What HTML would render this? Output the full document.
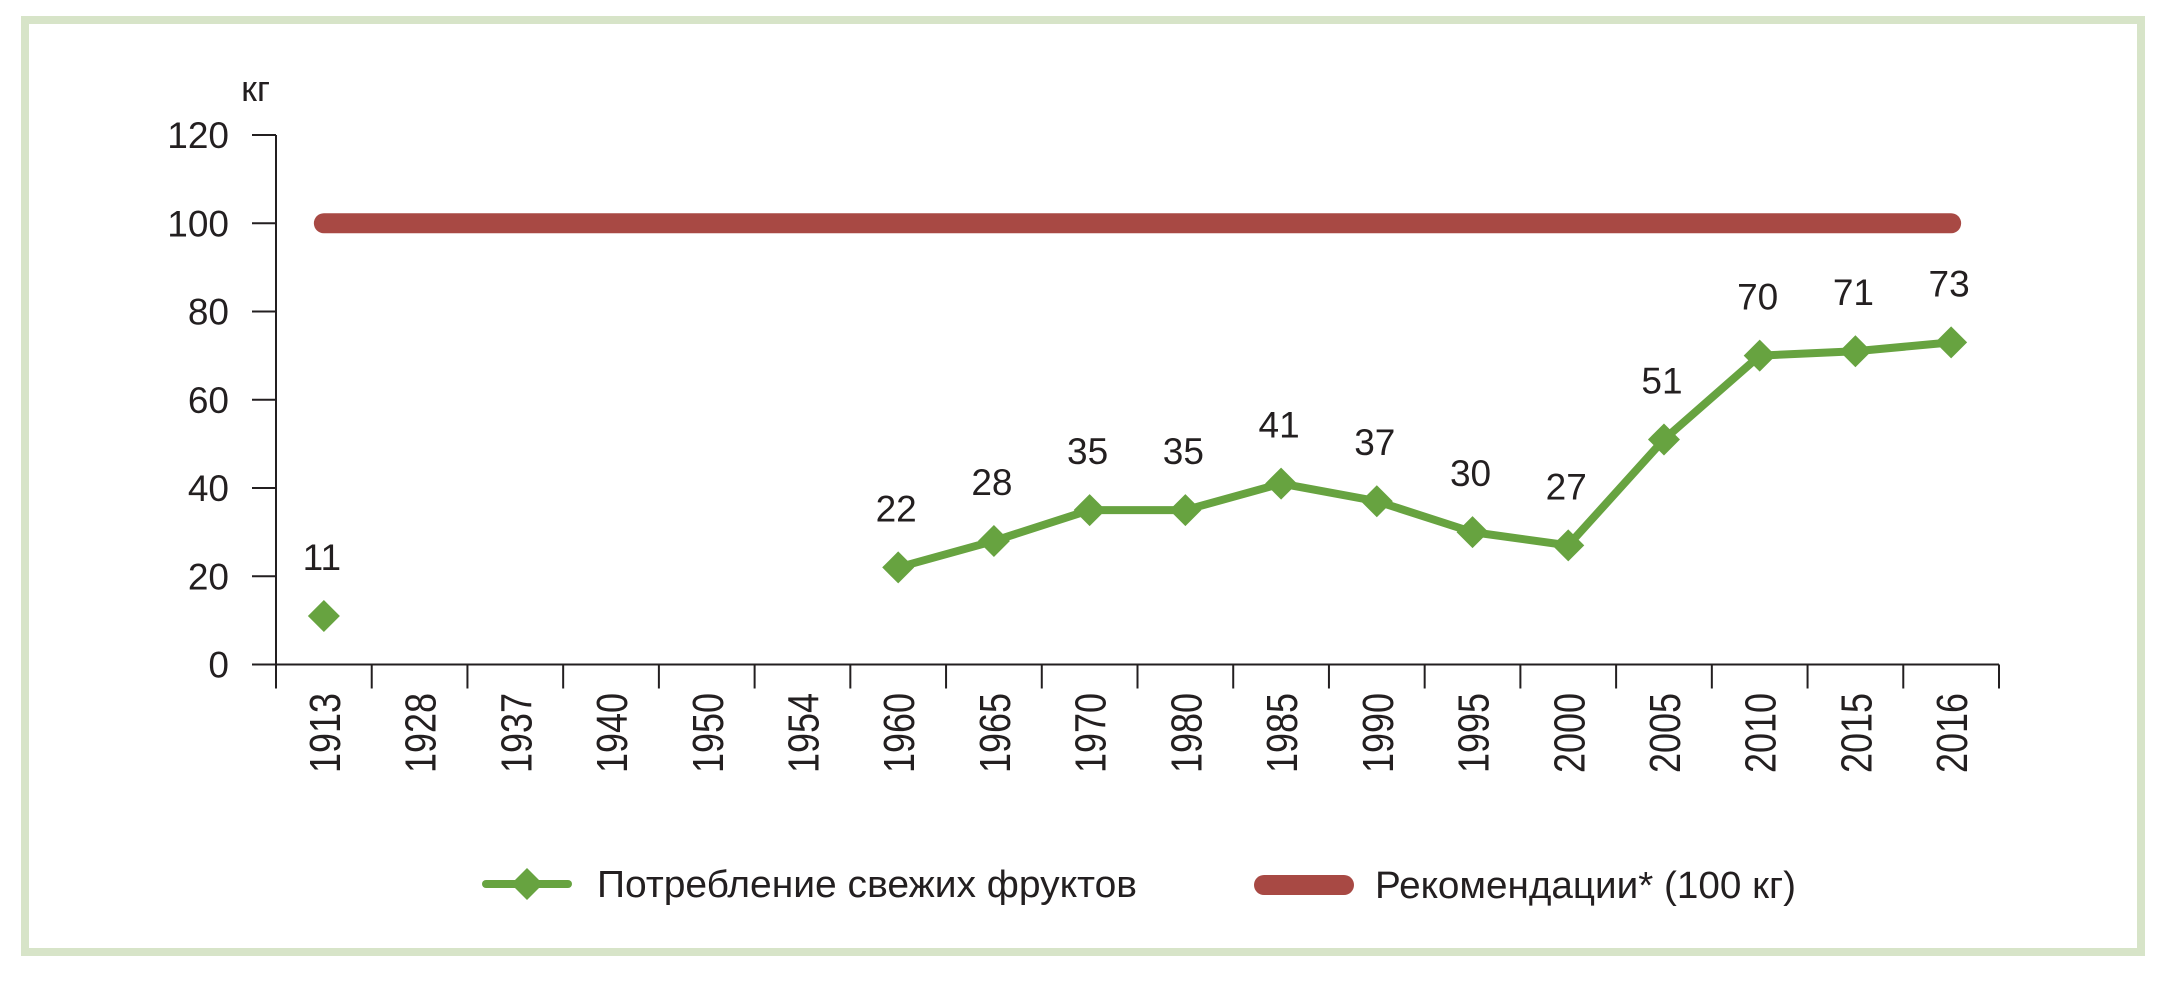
<!DOCTYPE html>
<html><head><meta charset="utf-8">
<style>
html,body{margin:0;padding:0;background:#fff;}
svg{display:block;font-family:"Liberation Sans",sans-serif;}
</style></head>
<body>
<svg id="chart" width="2161" height="981" viewBox="0 0 2161 981" xmlns="http://www.w3.org/2000/svg">
<rect x="25" y="20" width="2116" height="932" fill="#fff" stroke="#d7e4c8" stroke-width="8"/>
<text x="270" y="101" font-size="36" fill="#231f20" text-anchor="end">кг</text>
<g id="axes"></g>
<g id="series"></g>
<g>
<g>
<line x1="486" y1="884" x2="568" y2="884" stroke="#67a340" stroke-width="8" stroke-linecap="round"/>
<path d="M527 868 L543 884 L527 900 L511 884 Z" fill="#67a340"/>
<text x="597" y="897" font-size="38" fill="#231f20" textLength="540" lengthAdjust="spacingAndGlyphs">Потребление свежих фруктов</text>
</g>
<g>
<line x1="1264" y1="885" x2="1344" y2="885" stroke="#a84944" stroke-width="20" stroke-linecap="round"/>
<text x="1375" y="898" font-size="38" fill="#231f20" textLength="421" lengthAdjust="spacingAndGlyphs">Рекомендации* (100 кг)</text>
</g>
</g>
</svg>
<script>
const categories = ["1913","1928","1937","1940","1950","1954","1960","1965","1970","1980","1985","1990","1995","2000","2005","2010","2015","2016"];
const consumption = [11,null,null,null,null,null,22,28,35,35,41,37,30,27,51,70,71,73];
const recommendation = 100;
const yTicks = [0,20,40,60,80,100,120];

const NS="http://www.w3.org/2000/svg";
const x0=276, x1=1999, y0=664.5, yTop=135, yMax=120;
const band=(x1-x0)/categories.length;
const xs=i=>x0+band*(i+0.5);
const ys=v=>y0-(v/yMax)*(y0-yTop);
function mk(tag,attrs,parent,text){const e=document.createElementNS(NS,tag);for(const k in attrs)e.setAttribute(k,attrs[k]);if(text!=null)e.textContent=text;parent.appendChild(e);return e;}
const axes=document.getElementById('axes'), ser=document.getElementById('series');
const col="#231f20";
let yl=mk('line',{x1:x0,y1:yTop,x2:x0,y2:y0+23,stroke:col,'stroke-width':2},axes);


yTicks.forEach(t=>{
  const y=ys(t);
  let tk=mk('line',{x1:252,y1:y,x2:x0,y2:y,stroke:col,'stroke-width':2},axes);
  
  
  let lb=mk('text',{x:229,y:y+13,'font-size':37,fill:col,'text-anchor':'end'},axes,String(t));
  
  
});
let xl=mk('line',{x1:252,y1:y0,x2:x1,y2:y0,stroke:col,'stroke-width':2},axes);


for(let i=0;i<=categories.length;i++){
  const x=x0+band*i;
  let tk=mk('line',{x1:x,y1:y0,x2:x,y2:y0+24,stroke:col,'stroke-width':2},axes);
  
  
}
categories.forEach((c,i)=>{
  const x=xs(i)+16, y=693;
  let lb=mk('text',{x:x,y:y,'font-size':44,fill:col,'text-anchor':'end',transform:`rotate(-90 ${x} ${y})`,textLength:80,lengthAdjust:'spacingAndGlyphs'},axes,c);
  
  
});
let rl=mk('line',{x1:xs(0),y1:ys(recommendation),x2:xs(categories.length-1),y2:ys(recommendation),stroke:'#a84944','stroke-width':20,'stroke-linecap':'round'},ser);


let seg=[];
const segs=[];
consumption.forEach((v,i)=>{ if(v==null){ if(seg.length)segs.push(seg); seg=[]; } else seg.push([xs(i),ys(v)]); });
if(seg.length)segs.push(seg);
segs.forEach(s=>{ if(s.length>1){
  let pl=mk('polyline',{points:s.map(p=>p.join(',')).join(' '),fill:'none',stroke:'#67a340','stroke-width':8,'stroke-linejoin':'round'},ser);
  
  
}});
consumption.forEach((v,i)=>{
  if(v==null)return;
  const x=xs(i),y=ys(v);
  let d=mk('path',{d:`M${x} ${y-16} L${x+16} ${y} L${x} ${y+16} L${x-16} ${y} Z`,fill:'#67a340'},ser);
  
  
  let lb=mk('text',{x:x-2,y:y-46,'font-size':37,fill:col,'text-anchor':'middle'},ser,String(v));
  
  
});
</script>
</body></html>
